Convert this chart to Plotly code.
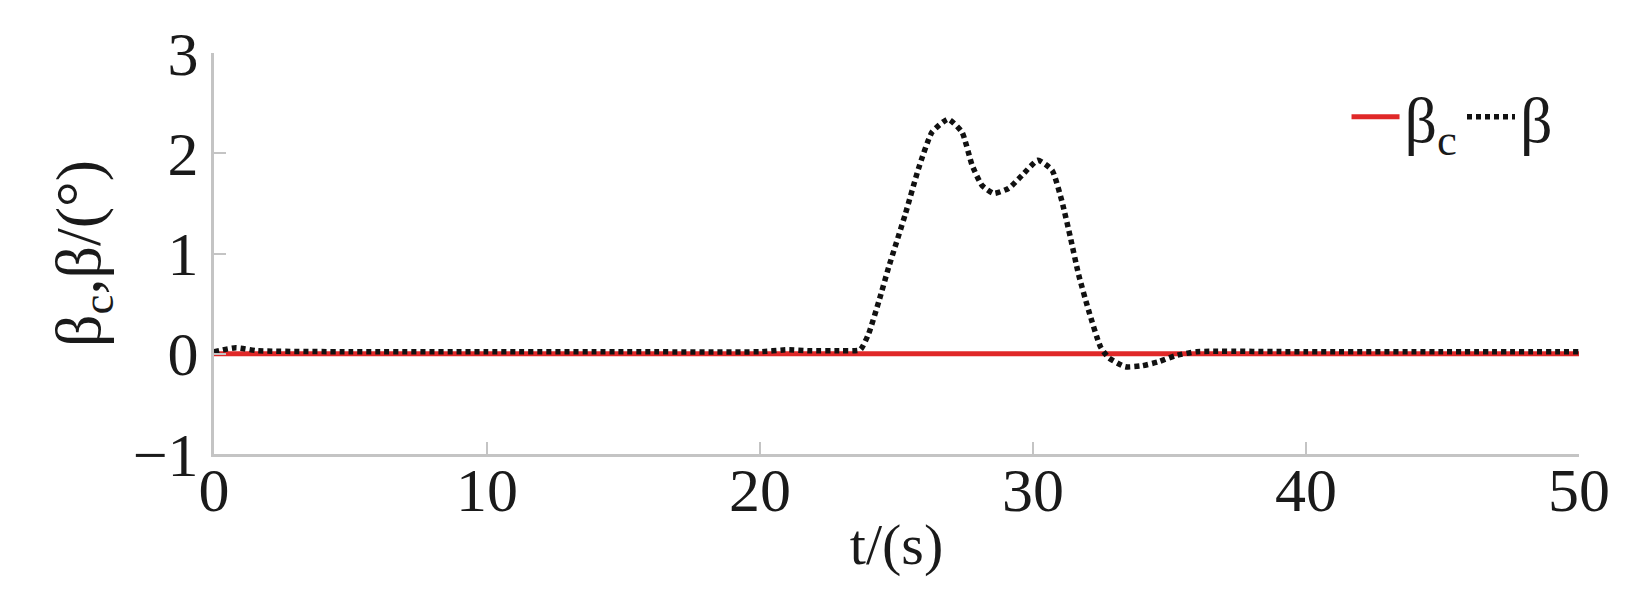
import plotly.graph_objects as go

# time axis and attitude angle values
t_cmd = [0, 50]
beta_cmd = [0, 0]

t_beta = [0, 0.8, 1.6, 5, 10, 15, 20, 21, 21.8, 23, 23.67, 23.98, 24.35, 24.71,
          25.32, 25.81, 26.30, 26.89, 27.40, 27.77, 28.13, 28.56, 29.11, 29.60,
          30.18, 30.70, 31.06, 31.37, 31.67, 32.04, 32.47, 32.77, 33.38, 33.99,
          34.6, 35.2, 36, 40, 45, 50]
beta = [0.02, 0.06, 0.03, 0.02, 0.02, 0.02, 0.02, 0.04, 0.03, 0.03, 0.04, 0.20,
        0.52, 0.86, 1.39, 1.85, 2.21, 2.34, 2.21, 1.88, 1.68, 1.60, 1.65, 1.78,
        1.93, 1.83, 1.52, 1.16, 0.79, 0.43, 0.07, -0.04, -0.13, -0.12, -0.08,
        -0.02, 0.02, 0.02, 0.02, 0.02]

x_ticks = [0, 10, 20, 30, 40, 50]
y_ticks = [-1, 0, 1, 2, 3]

FONT = "Liberation Serif, Times New Roman, serif"
AXIS_GREY = "#c4c4c4"

fig = go.Figure()
fig.add_trace(go.Scatter(
    x=t_cmd, y=beta_cmd, mode="lines", name="β<sub>c</sub>",
    line=dict(color="#e02828", width=5),
))
fig.add_trace(go.Scatter(
    x=t_beta, y=beta, mode="lines", name="β",
    line=dict(color="#111111", width=5.5, dash="5px,4px", shape="spline", smoothing=0.5),
))

fig.update_layout(
    width=1643, height=602,
    margin=dict(l=206, r=72, t=40, b=156),
    paper_bgcolor="white", plot_bgcolor="white",
    font=dict(family=FONT, size=62, color="#1a1a1a"),
    legend=dict(
        orientation="h", x=0.985, xanchor="right", y=0.84, yanchor="middle",
        font=dict(size=64), bgcolor="rgba(0,0,0,0)",
        itemwidth=48, tracegroupgap=0,
    ),
)
fig.update_xaxes(
    range=[0, 50], tickvals=x_ticks, ticktext=[str(v) for v in x_ticks],
    showgrid=False, zeroline=False,
    showline=True, linecolor=AXIS_GREY, linewidth=3,
    ticks="inside", ticklen=12, tickwidth=1.5, tickcolor=AXIS_GREY,
    ticklabelstandoff=-20,
    title=dict(text="t/(s)", font=dict(size=58), standoff=0),
)
fig.update_yaxes(
    range=[-1, 3], tickvals=y_ticks, ticktext=[("−1" if v < 0 else str(v)) for v in y_ticks],
    showgrid=False, zeroline=False,
    showline=True, linecolor=AXIS_GREY, linewidth=3,
    ticks="inside", ticklen=12, tickwidth=1.5, tickcolor=AXIS_GREY,
    title=dict(text="β<sub>c</sub>,β/(°)", font=dict(size=64), standoff=12),
)

fig.write_html("out.html")
